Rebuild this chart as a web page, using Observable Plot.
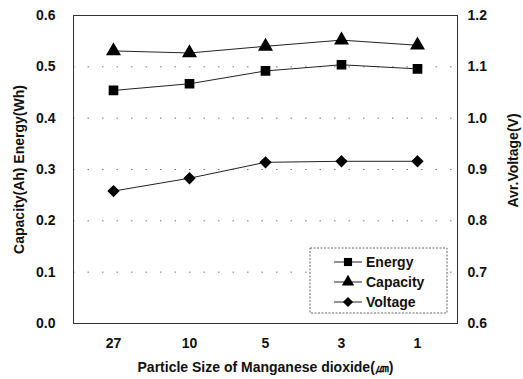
<!DOCTYPE html>
<html><head><meta charset="utf-8">
<script src="https://cdn.jsdelivr.net/npm/d3@7"></script>
<script src="https://cdn.jsdelivr.net/npm/@observablehq/plot@0.6"></script>
<style>
body{margin:0;background:#fff}
#chart svg{font-family:"Liberation Sans",Arial,sans-serif;font-weight:bold}
</style></head><body><div id="chart"></div>
<script>
const sizes = ["27", "10", "5", "3", "1"];
const energy = [0.454, 0.467, 0.492, 0.504, 0.496];
const capacity = [0.531, 0.527, 0.540, 0.552, 0.542];
const voltage = [0.858, 0.883, 0.914, 0.916, 0.916];
const leftTicks = [0, 0.1, 0.2, 0.3, 0.4, 0.5, 0.6];
const rightTicks = [0.6, 0.7, 0.8, 0.9, 1.0, 1.1, 1.2];
const gridTicks = [0.1, 0.2, 0.3, 0.4, 0.5];
const seriesNames = ["Energy", "Capacity", "Voltage"];
const symbols = ["square", "triangle", "diamond2"];

const vOffset = rightTicks[0] - leftTicks[0];
const rows = [];
sizes.forEach((s, i) => {
  rows.push({size: s, series: "Energy", y: energy[i]});
  rows.push({size: s, series: "Capacity", y: capacity[i]});
  rows.push({size: s, series: "Voltage", y: voltage[i] - vOffset});
});

const FS = 14;
const W = 523, H = 379;
const plot = Plot.plot({
  width: W, height: H,
  marginLeft: 73, marginRight: 66, marginTop: 15, marginBottom: 56,
  style: {fontSize: FS + "px", color: "#111", background: "#fff"},
  x: {type: "point", domain: sizes, padding: 0.5, label: null},
  y: {domain: [0, 0.6], label: null},
  symbol: {domain: seriesNames, range: symbols},
  marks: [
    Plot.ruleY(gridTicks, {stroke: "#777", strokeDasharray: "1.5,13", strokeWidth: 1}),
    Plot.frame({stroke: "#333", strokeWidth: 1}),
    Plot.axisY(leftTicks, {anchor: "left", tickSize: 0, tickPadding: 18, tickFormat: d => d.toFixed(1), label: null, fontSize: FS}),
    Plot.axisY(leftTicks, {anchor: "right", tickSize: 0, tickPadding: 10, tickFormat: (d, i) => rightTicks[i].toFixed(1), label: null, fontSize: FS}),
    Plot.axisX(sizes, {anchor: "bottom", tickSize: 0, tickPadding: 15, label: null, fontSize: FS}),
    Plot.line(rows, {x: "size", y: "y", z: "series", stroke: "#222", strokeWidth: 1}),
    Plot.dot(rows, {x: "size", y: "y", symbol: "series", fill: "#000", stroke: "#000", r: 4.6}),
    Plot.text(["Capacity(Ah) Energy(Wh)"], {frameAnchor: "left", textAnchor: "middle", dx: -54, rotate: -90, fontSize: FS, fill: "#111"}),
    Plot.text(["Avr.Voltage(V)"], {frameAnchor: "right", textAnchor: "middle", dx: 56, dy: -9, rotate: -90, fontSize: FS, fill: "#111"}),
    Plot.text(["Particle Size of Manganese dioxide(\u339B)"], {frameAnchor: "bottom", dy: 48, fontSize: FS, fill: "#111"})
  ]
});
document.getElementById("chart").appendChild(plot);

// legend inside the plot area
const svg = d3.select(plot);
const lg = svg.append("g").attr("font-size", FS + "px").attr("fill", "#111").attr("text-anchor", "start");
lg.append("rect").attr("x", 310).attr("y", 248).attr("width", 137).attr("height", 65)
  .attr("fill", "#fff").attr("stroke", "#666").attr("stroke-dasharray", "2,1.5");
const legendSymbols = [d3.symbolSquare, d3.symbolTriangle, d3.symbolDiamond2];
seriesNames.forEach((name, i) => {
  const yy = 262 + i * 20;
  lg.append("line").attr("x1", 334).attr("x2", 362).attr("y1", yy).attr("y2", yy).attr("stroke", "#222");
  lg.append("path").attr("transform", `translate(348,${yy})`)
    .attr("d", d3.symbol(legendSymbols[i], 66)())
    .attr("fill", "#000");
  lg.append("text").attr("x", 366).attr("y", yy).attr("dy", "0.35em").text(name);
});
</script></body></html>
